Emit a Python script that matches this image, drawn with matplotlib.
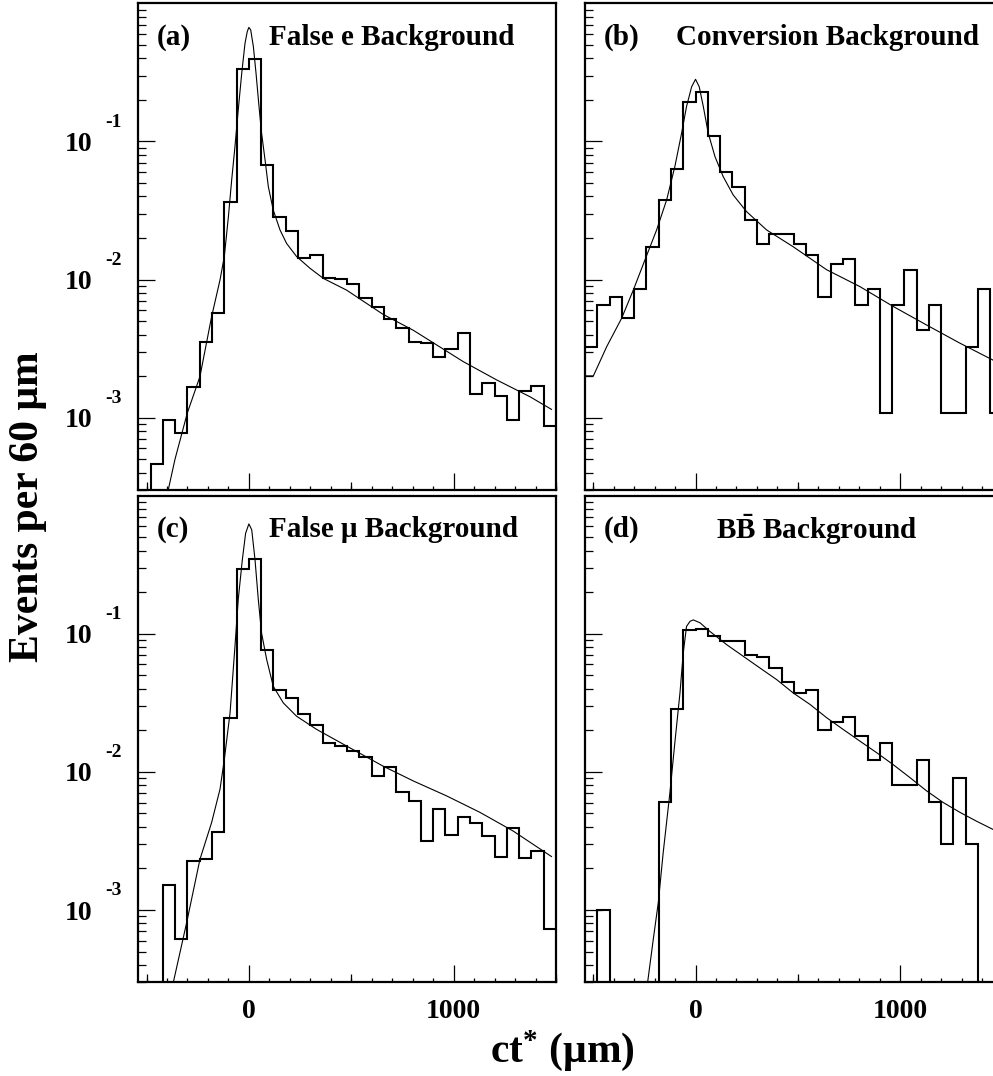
import numpy as np
import matplotlib
matplotlib.use("Agg")
import matplotlib.pyplot as plt
import matplotlib.transforms as mtransforms
from matplotlib.ticker import FixedLocator, NullFormatter, FixedFormatter

plt.rcParams['font.family'] = ['Liberation Serif', 'DejaVu Serif']
plt.rcParams['font.weight'] = 'bold'
plt.rcParams['mathtext.fontset'] = 'custom'
plt.rcParams['mathtext.rm'] = 'Liberation Serif:bold'
plt.rcParams['mathtext.it'] = 'Liberation Serif:bold'
plt.rcParams['mathtext.bf'] = 'Liberation Serif:bold'

# binning: 60 um bins from -540 to 1500
x_lo = -540
bin_width = 60
n_bins = 34

# histogram contents, events per 60 um (0 = empty bin)
hist_a = [0, 4.6e-4, 9.7e-4, 7.7e-4, 1.68e-3, 3.56e-3, 5.7e-3, 0.0363, 0.335, 0.393,
          0.0676, 0.0283, 0.0225, 0.0143, 0.0151, 0.0102, 0.0101, 0.0093, 0.0074, 0.00638,
          0.00517, 0.00445, 0.00356, 0.00346, 0.00277, 0.00313, 0.00409, 0.00148, 0.00178,
          0.00144, 0.00097, 0.00155, 0.00170, 0.00087]
hist_b = [3.24e-3, 6.5e-3, 7.5e-3, 5.3e-3, 8.6e-3, 0.0171, 0.0375, 0.0632, 0.192, 0.228,
          0.110, 0.0601, 0.0469, 0.0269, 0.0182, 0.0214, 0.0214, 0.0182, 0.0150, 7.5e-3,
          0.0129, 0.0140, 6.5e-3, 8.6e-3, 1.08e-3, 6.5e-3, 0.0118, 4.3e-3, 6.5e-3,
          1.08e-3, 1.08e-3, 3.24e-3, 8.6e-3, 1.08e-3]
hist_c = [0, 0, 1.51e-3, 6.2e-4, 2.27e-3, 2.36e-3, 3.70e-3, 0.0246, 0.295, 0.347,
          0.0759, 0.0394, 0.0340, 0.0263, 0.0217, 0.0161, 0.0154, 0.0142, 0.0128, 9.3e-3,
          0.0108, 7.2e-3, 6.15e-3, 3.16e-3, 5.4e-3, 3.5e-3, 4.7e-3, 4.3e-3, 3.44e-3,
          2.43e-3, 3.9e-3, 2.4e-3, 2.68e-3, 7.3e-4]
hist_d = [0, 1.0e-3, 0, 0, 0, 0, 6.05e-3, 0.0283, 0.106, 0.108,
          0.0959, 0.0892, 0.0892, 0.0699, 0.0676, 0.0566, 0.0446, 0.0373, 0.0394, 0.0200,
          0.0230, 0.0250, 0.0183, 0.0121, 0.0163, 8.1e-3, 8.1e-3, 0.0121, 6.1e-3,
          3.03e-3, 9.1e-3, 3.03e-3, 0, 0]

# fitted curves
fit_a_x = [-394, -361, -301, -239, -182, -141, -120, -100, -84, -68, -52, -35, -19, -8, 0,
           9, 22, 35, 48, 62, 79, 95, 119, 152, 184, 233, 298, 364, 477, 656, 803, 1047,
           1210, 1373, 1478]
fit_a_y = [3.0e-4, 5.0e-4, 1.08e-3, 1.99e-3, 5.4e-3, 9.95e-3, 0.0147, 0.0286, 0.0527, 0.0918,
           0.169, 0.311, 0.513, 0.624, 0.670, 0.641, 0.485, 0.311, 0.189, 0.115, 0.0735,
           0.0471, 0.0319, 0.0229, 0.0183, 0.0147, 0.0121, 0.0102, 8.4e-3, 5.6e-3, 4.3e-3,
           2.55e-3, 1.88e-3, 1.42e-3, 1.15e-3]
fit_b_x = [-540, -499, -434, -361, -304, -247, -190, -141, -101, -68, -44, -19, 0, 18, 38,
           62, 95, 135, 184, 249, 347, 477, 640, 803, 965, 1128, 1291, 1452]
fit_b_y = [2.01e-3, 2.01e-3, 3.27e-3, 5.25e-3, 8.4e-3, 0.0139, 0.0229, 0.0378, 0.0658, 0.115,
           0.179, 0.249, 0.282, 0.249, 0.179, 0.115, 0.0777, 0.0557, 0.0410, 0.0311, 0.0229,
           0.0173, 0.0118, 8.9e-3, 6.4e-3, 4.7e-3, 3.47e-3, 2.62e-3]
fit_c_x = [-369, -304, -239, -182, -141, -120, -92, -68, -52, -32, -16, 0, 14, 30, 46, 62,
           87, 119, 168, 233, 331, 477, 656, 803, 966, 1128, 1291, 1478]
fit_c_y = [3.0e-4, 8.1e-4, 2.33e-3, 4.3e-3, 7.5e-3, 0.0123, 0.0267, 0.081, 0.177, 0.343,
           0.533, 0.624, 0.565, 0.343, 0.177, 0.101, 0.065, 0.0417, 0.0316, 0.0253, 0.0203,
           0.0154, 0.0110, 8.6e-3, 6.7e-3, 5.1e-3, 3.73e-3, 2.44e-3]
fit_d_x = [-234, -206, -182, -158, -125, -101, -76, -60, -44, -27, -11, 22, 70, 152, 233,
           314, 396, 477, 559, 640, 721, 803, 884, 965, 1047, 1128, 1210, 1291, 1372, 1452]
fit_d_y = [3.0e-4, 6.2e-4, 1.13e-3, 2.6e-3, 7.1e-3, 0.0163, 0.0373, 0.0726, 0.113, 0.123,
           0.126, 0.120, 0.104, 0.0834, 0.0687, 0.0566, 0.0466, 0.0373, 0.0308, 0.0247,
           0.0203, 0.0167, 0.0138, 0.0113, 9.1e-3, 7.3e-3, 6.0e-3, 5.1e-3, 4.4e-3, 3.84e-3]

tags = ["(a)", "(b)", "(c)", "(d)"]
titles = ["False e Background", "Conversion Background",
          "False \u03bc Background", r"B$\bar{B}$ Background"]
title_x = [0.314, 0.218, 0.314, 0.314]
y_decades = [-3, -2, -1]

hists = [hist_a, hist_b, hist_c, hist_d]
fits = [(fit_a_x, fit_a_y), (fit_b_x, fit_b_y), (fit_c_x, fit_c_y), (fit_d_x, fit_d_y)]

fig = plt.figure(figsize=(9.93, 10.76), dpi=100)
lefts = [0.1393, 0.5891, 0.1393, 0.5891]
bottoms = [0.5446, 0.5446, 0.0871, 0.0871]
w, h = 0.4206, 0.4523

edges = x_lo + bin_width * np.arange(n_bins + 1)

for i in range(4):
    ax = fig.add_axes([lefts[i], bottoms[i], w, h])
    vals = np.array(hists[i], dtype=float)
    vals = np.where(vals > 0, vals, 1e-9)
    ax.stairs(vals, edges, baseline=None, color='black', lw=1.5)
    ax.plot(fits[i][0], fits[i][1], color='black', lw=0.8)

    ax.set_yscale('log')
    ax.set_ylim(3e-4, 1)
    ax.set_xlim(-540, 1500)
    for s in ax.spines.values():
        s.set_linewidth(1.6)

    # y ticks
    ax.yaxis.set_major_locator(FixedLocator([10.0 ** e for e in y_decades]))
    minors = [m * 10.0 ** e for e in [-4, -3, -2, -1] for m in range(2, 10)]
    ax.yaxis.set_minor_locator(FixedLocator(minors))
    ax.yaxis.set_minor_formatter(NullFormatter())
    if i % 2 == 0:
        ax.yaxis.set_major_formatter(FixedFormatter(["10"] * 3))
        blend = mtransforms.blended_transform_factory(ax.transAxes, ax.transData)
        off = mtransforms.offset_copy(blend, fig=fig, x=0, y=14, units='points')
        for e in y_decades:
            ax.text(-0.080, 10.0 ** e, str(e), transform=off, fontsize=14,
                    ha='left', va='center')
    else:
        ax.yaxis.set_major_formatter(NullFormatter())
    ax.tick_params(axis='y', which='major', direction='in', length=12, width=0.9,
                   pad=33, labelsize=20, left=True, right=False)
    ax.tick_params(axis='y', which='minor', direction='in', length=6, width=0.9,
                   left=True, right=False)

    # x ticks: long at 0/1000, medium at 500s, short every 100
    ax.xaxis.set_major_locator(FixedLocator([0, 1000]))
    ax.xaxis.set_minor_locator(FixedLocator(list(range(-500, 1501, 100))))
    ax.xaxis.set_minor_formatter(NullFormatter())
    if i >= 2:
        ax.xaxis.set_major_formatter(FixedFormatter(["0", "1000"]))
    else:
        ax.xaxis.set_major_formatter(NullFormatter())
    ax.tick_params(axis='x', which='major', direction='in', length=12, width=0.9,
                   pad=12, labelsize=20, bottom=True, top=False)
    ax.tick_params(axis='x', which='minor', direction='in', length=3, width=0.9,
                   bottom=True, top=False)
    sec = ax.secondary_xaxis('bottom')
    sec.set_xticks([-500, 500, 1500])
    sec.xaxis.set_minor_locator(FixedLocator([]))
    sec.tick_params(direction='in', length=6, width=0.9, labelbottom=False)
    sec.spines['bottom'].set_visible(False)

    ax.text(0.044, 0.930, tags[i], transform=ax.transAxes, fontsize=21,
            ha='left', va='center')
    ax.text(title_x[i], 0.930, titles[i], transform=ax.transAxes, fontsize=21,
            ha='left', va='center')

fig.text(0.028, 0.529, "Events per 60 \u03bcm", rotation=90, fontsize=30,
         ha='center', va='center')
fig.text(0.566, 0.013, "ct$^{*}$ (\u03bcm)", fontsize=30, ha='center', va='baseline')

fig.savefig("out.png", dpi=100)
